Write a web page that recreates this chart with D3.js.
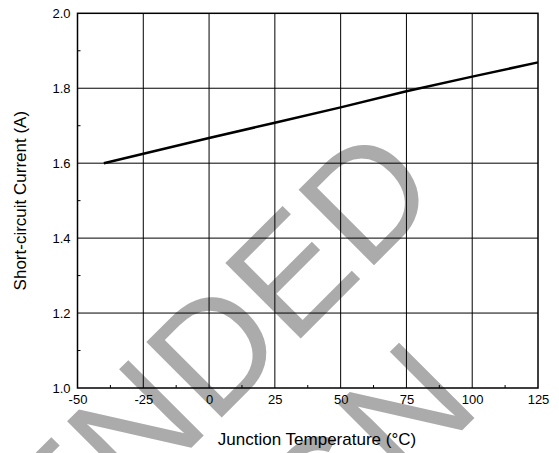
<!DOCTYPE html>
<html>
<head>
<meta charset="utf-8">
<script src="https://cdn.jsdelivr.net/npm/d3@7"></script>
<style>
  html, body { margin: 0; padding: 0; background: #fff; }
  svg { display: block; font-family: "Liberation Sans", Arial, sans-serif; }
</style>
</head>
<body>
<svg id="chart" width="559" height="453"></svg>
<script>
// Short-circuit current vs. junction temperature
const temperatures = [-40, 0, 25, 50, 75, 100, 125];
const currents = [1.600, 1.667, 1.708, 1.749, 1.792, 1.831, 1.869];

const xTicks = [-50, -25, 0, 25, 50, 75, 100, 125];
const yTicks = [1.0, 1.2, 1.4, 1.6, 1.8, 2.0];
const xMinorTicks = [-37.5, -12.5, 12.5, 37.5, 62.5, 87.5, 112.5];
const yMinorTicks = [1.1, 1.3, 1.5, 1.7, 1.9];

const xTitle = "Junction Temperature (°C)";
const yTitle = "Short-circuit Current (A)";
const stampLines = ["NOT RECOMMENDED", "FOR NEW DESIGN"];

const svg = d3.select("#chart");
const plot = { left: 77.5, right: 538, top: 13.3, bottom: 388 };

const x = d3.scaleLinear().domain([-50, 125]).range([plot.left, plot.right]);
const y = d3.scaleLinear().domain([1.0, 2.0]).range([plot.bottom, plot.top]);

// Status stamp drawn beneath the chart
const stamp = svg.append("g").attr("transform", "rotate(-45)");
stamp.selectAll("text")
  .data(stampLines)
  .join("text")
  .attr("x", -632)
  .attr("y", (d, i) => 452 + i * 179)
  .attr("text-anchor", "middle")
  .attr("font-size", 155)
  .attr("fill", "#ababab")
  .text(d => d);

// Grid
svg.append("g")
  .selectAll("line")
  .data(xTicks.slice(1, -1))
  .join("line")
  .attr("x1", d => x(d)).attr("x2", d => x(d))
  .attr("y1", plot.top).attr("y2", plot.bottom)
  .attr("stroke", "#000").attr("stroke-width", 1);

svg.append("g")
  .selectAll("line")
  .data(yTicks.slice(1, -1))
  .join("line")
  .attr("x1", plot.left).attr("x2", plot.right)
  .attr("y1", d => y(d)).attr("y2", d => y(d))
  .attr("stroke", "#000").attr("stroke-width", 1);

// Minor ticks, pointing inward
svg.append("g")
  .selectAll("line")
  .data(xMinorTicks)
  .join("line")
  .attr("x1", d => x(d)).attr("x2", d => x(d))
  .attr("y1", plot.bottom).attr("y2", plot.bottom - 3)
  .attr("stroke", "#000").attr("stroke-width", 1);

svg.append("g")
  .selectAll("line")
  .data(yMinorTicks)
  .join("line")
  .attr("x1", plot.left).attr("x2", plot.left + 3)
  .attr("y1", d => y(d)).attr("y2", d => y(d))
  .attr("stroke", "#000").attr("stroke-width", 1);

// Frame
svg.append("rect")
  .attr("x", plot.left).attr("y", plot.top)
  .attr("width", plot.right - plot.left)
  .attr("height", plot.bottom - plot.top)
  .attr("fill", "none").attr("stroke", "#000").attr("stroke-width", 1.5);

// Axes (labels only; frame and grid are drawn above)
const xAxis = svg.append("g")
  .attr("transform", `translate(0,${plot.bottom})`)
  .call(d3.axisBottom(x).tickValues(xTicks).tickSize(0).tickPadding(7).tickFormat(d => String(d)));
xAxis.select(".domain").remove();
xAxis.selectAll("text").attr("font-size", 13).attr("font-family", "Liberation Sans, Arial, sans-serif").attr("fill", "#000");

const yAxis = svg.append("g")
  .attr("transform", `translate(${plot.left},0)`)
  .call(d3.axisLeft(y).tickValues(yTicks).tickSize(0).tickPadding(7).tickFormat(d => d.toFixed(1)));
yAxis.select(".domain").remove();
yAxis.selectAll("text").attr("font-size", 13).attr("font-family", "Liberation Sans, Arial, sans-serif").attr("fill", "#000");

// Data curve
const line = d3.line().x((d, i) => x(temperatures[i])).y(d => y(d));
svg.append("path")
  .datum(currents)
  .attr("d", line)
  .attr("fill", "none")
  .attr("stroke", "#000")
  .attr("stroke-width", 2.5);

// Axis titles
svg.append("text")
  .attr("x", 317).attr("y", 445)
  .attr("text-anchor", "middle")
  .attr("font-size", 17)
  .text(xTitle);

svg.append("text")
  .attr("transform", `translate(26,${(plot.top + plot.bottom) / 2}) rotate(-90)`)
  .attr("text-anchor", "middle")
  .attr("font-size", 17)
  .text(yTitle);
</script>
</body>
</html>
